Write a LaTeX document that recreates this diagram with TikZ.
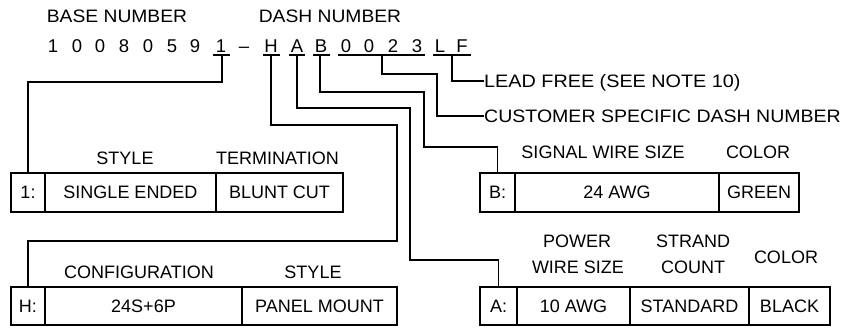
\documentclass[tikz,border=0pt]{standalone}
\usepackage{fontspec}
\setmainfont{Liberation Sans}
\begin{document}
\begin{tikzpicture}[x=1pt,y=-1pt,
  lbl/.style={inner sep=0pt, anchor=base, font=\fontsize{18}{20}\selectfont},
  chr/.style={inner sep=0pt, anchor=base, font=\fontsize{18.5}{20}\selectfont},
  cell/.style={draw, line width=1.6pt, inner sep=0pt, minimum height=39pt, font=\fontsize{18}{20}\selectfont},
  wire/.style={line width=1.6pt, line join=miter}]
\useasboundingbox (0,0) rectangle (841,327);
% headings
\node[lbl] (basehd) at (117,22) {\scalebox{1.07}[1]{BASE NUMBER}};
\node[lbl] (dashhd) at (330,22) {\scalebox{1.07}[1]{DASH NUMBER}};
% part number characters
\foreach \n/\x/\c in {d1/53/1,d2/77/0,d3/100/0,d4/124/8,d5/148/0,d6/172/5,d7/195/9,d8/221/1,dd/244/--,
  cH/271/H,cA/297/A,cB/321/B,c0a/346/0,c0b/369/0,c2/393/2,c3/417/3,cL/440/L,cF/462/F}
  \node[chr] (\n) at (\x,52) {\c};
% underlines
\draw[wire] (213,55) -- (230,55);
\draw[wire] (263,55) -- (280,55);
\draw[wire] (289,55) -- (305,55);
\draw[wire] (313,55) -- (330,55);
\draw[wire] (338,55) -- (425,55);
\draw[wire] (433,55) -- (471,55);
\coordinate (u1) at (222,55);
\coordinate (uH) at (271,55);
\coordinate (uA) at (297,55);
\coordinate (uB) at (320,55);
\coordinate (uN) at (382,55);
\coordinate (uLF) at (452,55);
% right texts
\node[lbl, anchor=base west] (lead) at (484,87.3) {\scalebox{1.1}[1]{LEAD FREE (SEE NOTE 10)}};
\node[lbl, anchor=base west] (cust) at (484,122) {\scalebox{1.085}[1]{CUSTOMER SPECIFIC DASH NUMBER}};
% box 1
\node[cell, minimum width=34pt] (k1) at (28,192.5) {1:};
\node[cell, minimum width=171pt] (k1s) at (130.5,192.5) {SINGLE ENDED};
\node[cell, minimum width=127pt] (k1t) at (279.5,192.5) {BLUNT CUT};
\node[lbl] (h1s) at (125,164) {STYLE};
\node[lbl] (h1t) at (277.5,164) {TERMINATION};
% box H
\node[cell, minimum width=34pt, minimum height=38pt] (kH) at (28,306) {H:};
\node[cell, minimum width=197pt, minimum height=38pt] (kHc) at (143.5,306) {24S+6P};
\node[cell, minimum width=155pt, minimum height=38pt] (kHs) at (319.5,306) {PANEL MOUNT};
\node[lbl] (hHc) at (139,278) {CONFIGURATION};
\node[lbl] (hHs) at (313,278) {STYLE};
% box B
\node[cell, minimum width=35pt] (kB) at (497.5,192.5) {B:};
\node[cell, minimum width=204pt] (kBs) at (617,192.5) {24 AWG};
\node[cell, minimum width=80pt] (kBc) at (759,192.5) {GREEN};
\node[lbl] (hBs) at (603,158) {SIGNAL WIRE SIZE};
\node[lbl] (hBc) at (758,158) {COLOR};
% box A
\node[cell, minimum width=37pt, minimum height=38pt] (kA) at (498.5,306) {A:};
\node[cell, minimum width=113pt, minimum height=38pt] (kAs) at (573.5,306) {10 AWG};
\node[cell, minimum width=119pt, minimum height=38pt] (kAn) at (689.5,306) {STANDARD};
\node[cell, minimum width=81pt, minimum height=38pt] (kAc) at (789.5,306) {BLACK};
\node[lbl] (hAp) at (577,247) {POWER};
\node[lbl] (hAw) at (578,273) {WIRE SIZE};
\node[lbl] (hAs) at (693,247) {STRAND};
\node[lbl] (hAn) at (693,273) {COUNT};
\node[lbl] (hAc) at (786,263) {COLOR};
% connectors
\draw[wire] (u1) -- (222,82) -- (k1.north |- 0,82) -- (k1.north);
\draw[wire] (uH) -- (271,125) -- (397,125) -- (397,240.7) -- (kH.north |- 0,240.7) -- (kH.north);
\draw[wire] (uA) -- (297,108) -- (410,108) -- (410,260) -- (kA.north |- 0,260) -- (kA.north);
\draw[wire] (uB) -- (320,91.7) -- (424,91.7) -- (424,146.7) -- (kB.north |- 0,146.7) -- (kB.north);
\draw[wire] (uN) -- (382,74) -- (437,74) -- (437,115.7) -- (cust.west |- 0,115.7);
\draw[wire] (uLF) -- (452,81) -- (lead.west |- 0,81);
\end{tikzpicture}
\end{document}
